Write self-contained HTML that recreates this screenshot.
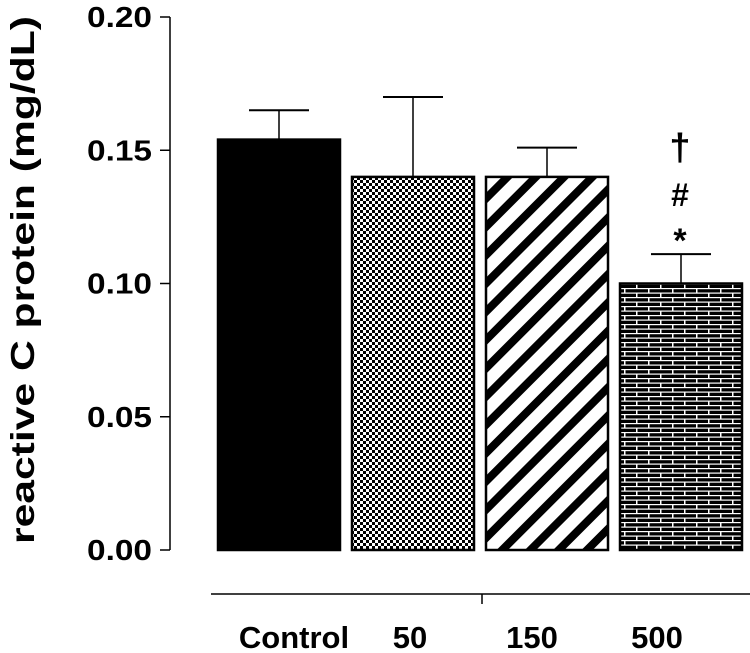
<!DOCTYPE html>
<html><head><meta charset="utf-8"><style>
body{margin:0;background:#fff;}
svg{display:block;font-family:"Liberation Sans",Arial,sans-serif;}
</style></head><body>
<svg width="750" height="653" viewBox="0 0 750 653">
<defs>
<pattern id="checker" width="6" height="6" patternUnits="userSpaceOnUse">
<rect width="6" height="6" fill="#fff"/><rect width="3" height="3" fill="#000"/><rect x="3" y="3" width="3" height="3" fill="#000"/>
</pattern>
<pattern id="diag" width="20" height="20" patternUnits="userSpaceOnUse" patternTransform="rotate(-45)">
<rect width="20" height="20" fill="#fff"/><rect width="20" height="8" fill="#000"/>
</pattern>
<pattern id="brick" width="24" height="9" patternUnits="userSpaceOnUse">
<rect width="24" height="9" fill="#000"/>
<rect y="0" width="24" height="1.2" fill="#fff"/>
<rect y="4.5" width="24" height="1.2" fill="#fff"/>
<rect x="0" y="0" width="1.5" height="4.5" fill="#fff"/>
<rect x="12" y="4.5" width="1.5" height="4.5" fill="#fff"/>
</pattern>
</defs>
<g id="chart"></g>
<text x="0" y="0" transform="translate(34,280) rotate(-90)" text-anchor="middle" font-size="33" font-weight="bold" textLength="528" lengthAdjust="spacingAndGlyphs">reactive C protein (mg/dL)</text>
<line x1="211" y1="594" x2="750" y2="594" stroke="#000" stroke-width="1.5"/>
<line x1="482" y1="594" x2="482" y2="604" stroke="#000" stroke-width="1.5"/>
<g font-weight="bold">
<text x="680" y="160" text-anchor="middle" font-size="38">†</text>
<text x="680" y="206" text-anchor="middle" font-size="32">#</text>
<text x="680" y="252" text-anchor="middle" font-size="34">*</text>
</g>
</svg>
<script>
const categories=["Control","50","150","500"];
const means=[0.154,0.14,0.14,0.10];
const errs=[0.011,0.030,0.011,0.011];
const yTicks=[0.00,0.05,0.10,0.15,0.20];
const fills=["#000","url(#checker)","url(#diag)","url(#brick)"];
const labelX=[294,410,532,657];
const NS="http://www.w3.org/2000/svg";
const g=document.getElementById('chart');
function y(v){return 550-v/0.2*533;}
function bx(i){return 218+i*134;}
const bw=122;
function mk(t,a){const e=document.createElementNS(NS,t);for(const k in a)e.setAttribute(k,a[k]);g.appendChild(e);return e;}
let ax=mk('line',{x1:170,y1:y(0.2),x2:170,y2:550,stroke:'#000','stroke-width':1.5});


yTicks.forEach(t=>{
 let l=mk('line',{x1:160,y1:y(t),x2:170,y2:y(t),stroke:'#000','stroke-width':1.5});
 
 
 let tx=mk('text',{x:152,y:y(t)+10,'text-anchor':'end','font-size':29,'font-weight':'bold',textLength:65,lengthAdjust:'spacingAndGlyphs'});
 tx.textContent=t.toFixed(2);
 
 
});
categories.forEach((c,i)=>{
 const x=bx(i),cx=x+bw/2;
 let eb=mk('line',{x1:cx,y1:y(means[i]),x2:cx,y2:y(means[i]+errs[i]),stroke:'#000','stroke-width':1.5});
 
 
 let cap=mk('line',{x1:cx-30,y1:y(means[i]+errs[i]),x2:cx+30,y2:y(means[i]+errs[i]),stroke:'#000','stroke-width':2});
 
 
 let r=mk('rect',{x:x,y:y(means[i]),width:bw,height:550-y(means[i]),fill:fills[i],stroke:'#000','stroke-width':2.5});
 
 
 let t=mk('text',{x:labelX[i],y:648,'text-anchor':'middle','font-size':31,'font-weight':'bold'});
 t.textContent=c;
 
 
});
</script>
</body></html>
